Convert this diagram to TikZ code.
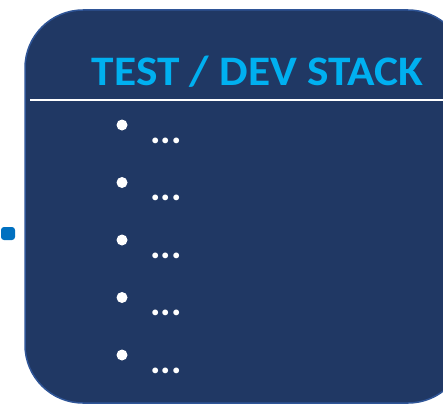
\documentclass[tikz,border=0pt]{standalone}
\usepackage{fontspec}
\setmainfont{Carlito}
\definecolor{stackfill}{HTML}{203864}
\definecolor{stackedge}{HTML}{2F5597}
\definecolor{stacktitle}{HTML}{00B0F0}
\definecolor{markblue}{HTML}{0070C0}

\newcommand{\stackvar}{
\def\bx{122}    % bullet column
\def\tx{150}    % text column
\def\dy{57.5}   % item spacing
}
\tikzset{
  bulletdot/.style={circle,fill=white,inner sep=0pt,minimum size=11pt},
  itemtext/.style={anchor=base west,inner sep=0pt,text=white,font=\fontsize{39}{39}\selectfont\bfseries},
}

\begin{document}
\begin{tikzpicture}[x=1pt,y=-1pt]
      \stackvar
      \useasboundingbox (0,0) rectangle (443,404);
      \clip (0,0) rectangle (443,404);
%
      \draw[fill=stackfill,draw=stackedge,line width=1.5pt,rounded corners=58pt] (25,10) rectangle (466,403);
      \node[fill=markblue,rounded corners=3pt,minimum width=14pt,minimum height=13pt,inner sep=0pt] (mark) at (8,233.5) {};
%
      \node[anchor=base,inner sep=0pt,text=stacktitle,xscale=1.08,font=\fontsize{42}{42}\selectfont\bfseries] (title) at (257.5,85) {TEST / DEV STACK};
      \coordinate (rulel) at (30,100);
      \coordinate (ruler) at (443,100);
      \draw[white,line width=1.5pt] (rulel) -- (ruler);
%
      \node[bulletdot] (b1) at (\bx,125) {};
      \node[bulletdot] (b2) at (\bx,125+\dy) {};
      \node[bulletdot] (b3) at (\bx,125+2*\dy) {};
      \node[bulletdot] (b4) at (\bx,125+3*\dy) {};
      \node[bulletdot] (b5) at (\bx,125+4*\dy) {};
%
      \node[itemtext] (t1) at (\tx,143) {...};
      \node[itemtext] (t2) at (\tx,143+\dy) {...};
      \node[itemtext] (t3) at (\tx,143+2*\dy) {...};
      \node[itemtext] (t4) at (\tx,143+3*\dy) {...};
      \node[itemtext] (t5) at (\tx,143+4*\dy) {...};
    \end{tikzpicture}
\end{document}
